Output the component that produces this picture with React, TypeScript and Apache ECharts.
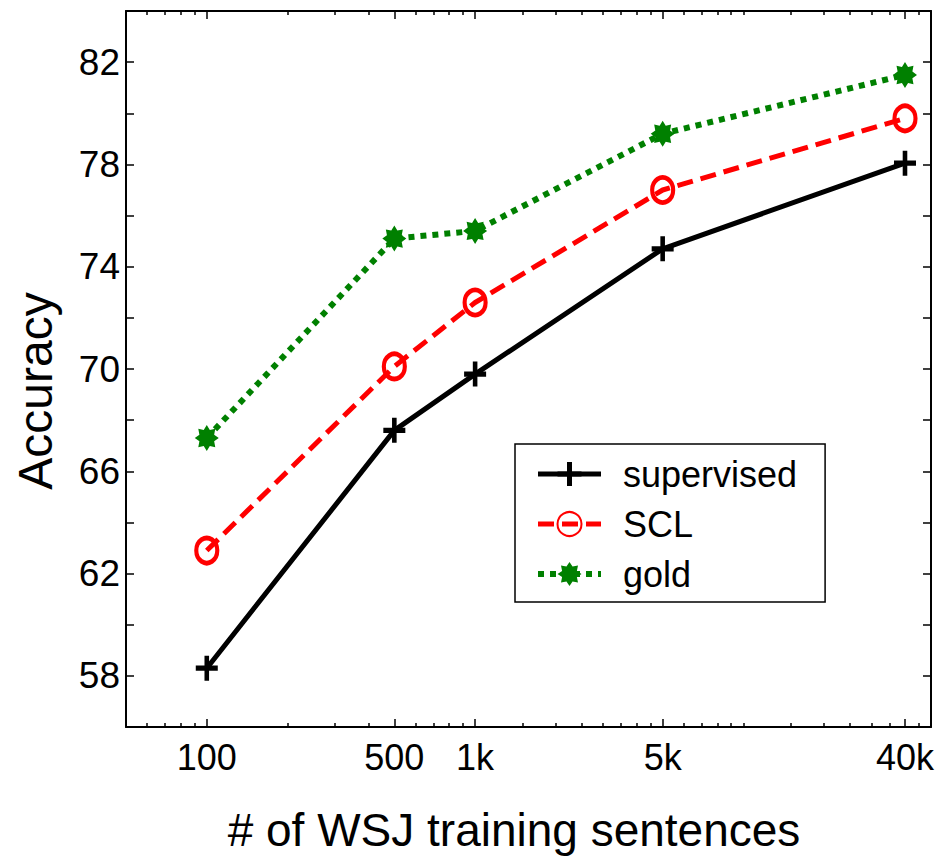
import React, { useEffect, useRef } from "react";
import * as echarts from "echarts";

const sizes = [100, 500, 1000, 5000, 40000];
const supervised = [58.3, 67.6, 69.8, 74.7, 78.05];
const scl = [62.9, 70.1, 72.6, 77.0, 79.8];
const gold = [67.3, 75.1, 75.4, 79.2, 81.5];

const xTickValues = [100, 500, 1000, 5000, 40000];
const xTickLabels = ["100", "500", "1k", "5k", "40k"];
const xMinorTicks = [60, 70, 80, 90, 200, 300, 400, 600, 700, 800, 900, 1500, 2000, 2500, 3000, 3500, 4000, 4500, 6000, 7000, 8000, 9000, 10000, 15000, 20000, 25000, 30000, 35000, 45000];
const xMajorTicks = [50, 100, 500, 1000, 5000, 40000, 50000];
const yLabels = [58, 62, 66, 70, 74, 78, 82];

const FONT = "'Liberation Sans', Arial, Helvetica, sans-serif";

const PLUS = "path://M-2.5,-12 L2.5,-12 L2.5,-2.5 L12,-2.5 L12,2.5 L2.5,2.5 L2.5,12 L-2.5,12 L-2.5,2.5 L-12,2.5 L-12,-2.5 L-2.5,-2.5 Z";
const STAR = "path://M12,0 L7.39,3.06 L8.49,8.49 L3.06,7.39 L0,12 L-3.06,7.39 L-8.49,8.49 L-7.39,3.06 L-12,0 L-7.39,-3.06 L-8.49,-8.49 L-3.06,-7.39 L0,-12 L3.06,-7.39 L8.49,-8.49 L7.39,-3.06 Z";

const BLACK = "#000000";
const RED = "#ff0000";
const GREEN = "#008000";

function fmtX(v: number): string {
  const i = xTickValues.findIndex((t) => Math.abs(t - v) < t * 1e-6);
  return i >= 0 ? xTickLabels[i] : "";
}

export default function App() {
  const ref = useRef<HTMLDivElement>(null);
  useEffect(() => {
    if (!ref.current) return;
    const chart = echarts.init(ref.current, undefined, { renderer: "svg" });
    const axisLine = { show: true, onZero: false, lineStyle: { color: "#000", width: 2 } };
    const baseX = { type: "log" as const, logBase: 10, min: 50, max: 50000, splitLine: { show: false } };
    const supLine = { color: BLACK, width: 5 };
    const sclLine = { color: RED, width: 5, type: [16, 8], cap: "butt" };
    const goldLine = { color: GREEN, width: 6, type: [6, 6], cap: "butt" };
    const option: any = {
      animation: false,
      backgroundColor: "#fff",
      grid: { left: 126, top: 11, right: 16, bottom: 130, containLabel: false },
      xAxis: [
        {
          ...baseX,
          position: "bottom",
          axisLine,
          axisTick: { show: true, inside: true, length: 8, customValues: xMajorTicks, lineStyle: { color: "#000", width: 1.5 } },
          axisLabel: { show: true, customValues: xTickValues, formatter: fmtX, margin: 12, color: "#000", fontSize: 36, fontFamily: FONT },
        },
        {
          ...baseX,
          position: "top",
          axisLine,
          axisTick: { show: true, inside: true, length: 8, customValues: xMajorTicks, lineStyle: { color: "#000", width: 1.5 } },
          axisLabel: { show: false },
        },
        {
          ...baseX,
          position: "bottom",
          axisLine: { show: false },
          axisTick: { show: true, inside: true, length: 4, customValues: xMinorTicks, lineStyle: { color: "#000", width: 1.5 } },
          axisLabel: { show: false },
        },
        {
          ...baseX,
          position: "top",
          axisLine: { show: false },
          axisTick: { show: true, inside: true, length: 4, customValues: xMinorTicks, lineStyle: { color: "#000", width: 1.5 } },
          axisLabel: { show: false },
        },
      ],
      yAxis: [
        {
          type: "value",
          min: 56,
          max: 84,
          interval: 2,
          position: "left",
          axisLine,
          splitLine: { show: false },
          axisTick: { show: true, inside: true, length: 8, lineStyle: { color: "#000", width: 1.5 } },
          axisLabel: { show: true, customValues: yLabels, margin: 6, color: "#000", fontSize: 37, fontFamily: FONT },
        },
        {
          type: "value",
          min: 56,
          max: 84,
          interval: 2,
          position: "right",
          axisLine,
          splitLine: { show: false },
          axisTick: { show: true, inside: true, length: 8, lineStyle: { color: "#000", width: 1.5 } },
          axisLabel: { show: false },
        },
      ],
      legend: {
        orient: "vertical",
        left: 515,
        top: 444,
        padding: [12, 28, 10, 20],
        itemGap: 14,
        itemWidth: 63,
        itemHeight: 30,
        backgroundColor: "#fff",
        borderColor: "#000",
        borderWidth: 1.5,
        borderRadius: 0,
        textStyle: { color: "#000", fontSize: 36, fontFamily: FONT, padding: [0, 0, 0, 17] },
        data: [
          { name: "supervised", lineStyle: supLine },
          { name: "SCL", lineStyle: sclLine },
          { name: "gold", lineStyle: goldLine },
        ],
      },
      graphic: [
        {
          type: "text",
          x: 514,
          y: 830,
          style: { text: "# of WSJ training sentences", fill: "#000", font: `46px ${FONT}`, textAlign: "center", textVerticalAlign: "middle" },
        },
        {
          type: "text",
          x: 35,
          y: 391,
          rotation: Math.PI / 2,
          style: { text: "Accuracy", fill: "#000", font: `48px ${FONT}`, textAlign: "center", textVerticalAlign: "middle" },
        },
      ],
      series: [
        {
          name: "supervised",
          type: "line",
          data: sizes.map((s, i) => [s, supervised[i]]),
          symbol: PLUS,
          symbolSize: [22, 25],
          itemStyle: { color: BLACK },
          lineStyle: supLine,
          z: 3,
        },
        {
          name: "SCL",
          type: "line",
          data: sizes.map((s, i) => [s, scl[i]]),
          symbol: "circle",
          symbolSize: [21, 25],
          itemStyle: { color: "rgba(255,255,255,0)", borderColor: RED, borderWidth: 4.5 },
          lineStyle: sclLine,
          z: 3,
        },
        {
          name: "gold",
          type: "line",
          data: sizes.map((s, i) => [s, gold[i]]),
          symbol: STAR,
          symbolSize: [24, 26],
          itemStyle: { color: GREEN },
          lineStyle: goldLine,
          z: 3,
        },
      ],
    };
    chart.setOption(option);
    return () => chart.dispose();
  }, []);
  return <div ref={ref} style={{ position: "fixed", left: 0, top: 0, width: 947, height: 857 }} />;
}
